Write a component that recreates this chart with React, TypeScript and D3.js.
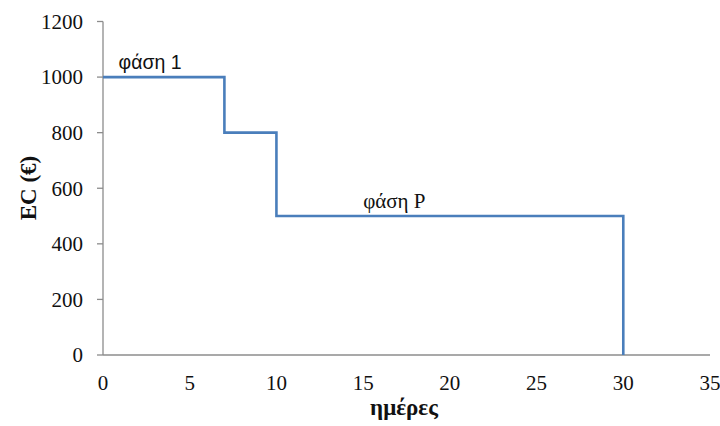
import React from "react";
import * as d3 from "d3";

const days = [0, 7, 10, 30];
const ecValues = [1000, 800, 500, 0];
const xTicks = [0, 5, 10, 15, 20, 25, 30, 35];
const yTicks = [0, 200, 400, 600, 800, 1000, 1200];
const annotations = [
  { text: "φάση 1", day: 0.9, value: 1030, serif: false },
  { text: "φάση P", day: 15, value: 530, serif: true },
];

const W = 720;
const H = 426;

const SERIF = "Liberation Serif";
const SANS = "Liberation Sans";

export default function App() {
  const x = d3.scaleLinear().domain([0, 35]).range([103, 710]);
  const y = d3.scaleLinear().domain([0, 1200]).range([355, 21.5]);
  const pts: [number, number][] = days.map((d, i) => [d, ecValues[i]]);
  const line = d3
    .line<[number, number]>()
    .x((d) => x(d[0]))
    .y((d) => y(d[1]))
    .curve(d3.curveStepAfter);
  const axisColor = "#8c8c8c";
  const serifStyle = { fontFamily: SERIF } as React.CSSProperties;
  return (
    <svg
      width={W}
      height={H}
      style={{ position: "absolute", left: 0, top: 0, background: "#fff" }}
    >
      <line x1={x(0)} x2={x(0)} y1={y(0)} y2={y(1200)} stroke={axisColor} strokeWidth={1.3} />
      {yTicks.map((t) => (
        <g key={"y" + t}>
          <line x1={x(0) - 6} x2={x(0)} y1={y(t)} y2={y(t)} stroke={axisColor} strokeWidth={1.3} />
          <text
            x={83}
            y={y(t)}
            dy="0.35em"
            textAnchor="end"
            style={serifStyle}
            fontSize={21}
            fill="#111"
          >
            {t}
          </text>
        </g>
      ))}
      <line x1={x(0)} x2={x(35)} y1={y(0)} y2={y(0)} stroke={axisColor} strokeWidth={1.3} />
      {xTicks.map((t) => (
        <text
          key={"x" + t}
          x={x(t)}
          y={390}
          textAnchor="middle"
          style={serifStyle}
          fontSize={21}
          fill="#111"
        >
          {t}
        </text>
      ))}
      <path d={line(pts) || ""} fill="none" stroke="#4a7ebb" strokeWidth={2.6} />
      {annotations.map((a) => (
        <text
          key={a.text}
          x={x(a.day)}
          y={y(a.value)}
          style={{ fontFamily: a.serif ? SERIF : SANS }}
          fontSize={a.serif ? 21 : 19.5}
          fill="#111"
        >
          {a.text}
        </text>
      ))}
      <text
        x={404}
        y={415}
        textAnchor="middle"
        style={serifStyle}
        fontWeight="bold"
        fontSize={23}
        fill="#111"
      >
        ημέρες
      </text>
      <text
        transform={`translate(36,188) rotate(-90)`}
        textAnchor="middle"
        style={serifStyle}
        fontWeight="bold"
        fontSize={23}
        fill="#111"
      >
        EC (€)
      </text>
    </svg>
  );
}
